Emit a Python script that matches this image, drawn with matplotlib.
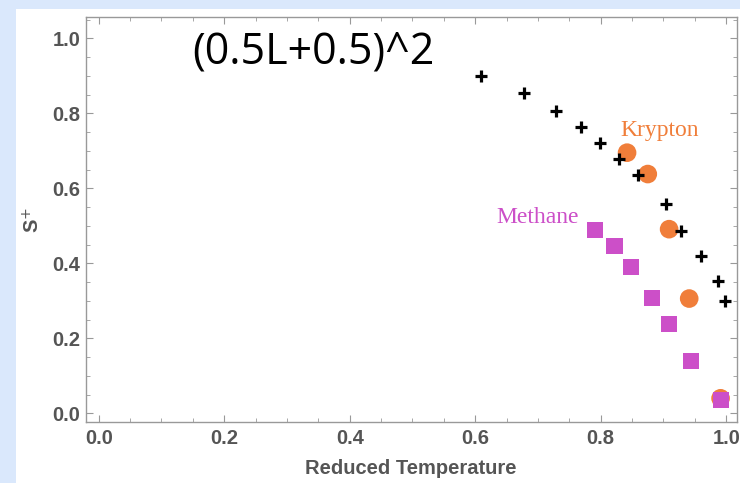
import matplotlib
matplotlib.use("Agg")
import matplotlib.pyplot as plt
from matplotlib.patches import Rectangle
from matplotlib.ticker import MultipleLocator

# Data
model_x = [0.610, 0.678, 0.729, 0.769, 0.799, 0.829, 0.859, 0.904, 0.928, 0.960, 0.987, 0.998]
model_y = [0.899, 0.854, 0.806, 0.763, 0.721, 0.678, 0.636, 0.558, 0.486, 0.419, 0.353, 0.300]
krypton_x = [0.842, 0.875, 0.909, 0.941, 0.991]
krypton_y = [0.695, 0.638, 0.491, 0.306, 0.040]
methane_x = [0.791, 0.822, 0.848, 0.882, 0.909, 0.944, 0.991]
methane_y = [0.489, 0.446, 0.390, 0.308, 0.238, 0.140, 0.035]
xticks = [0.0, 0.2, 0.4, 0.6, 0.8, 1.0]
yticks = [0.0, 0.2, 0.4, 0.6, 0.8, 1.0]

orange = "#f07e3a"
magenta = "#cc4fc8"
gray = "#555555"

fig = plt.figure(figsize=(7.4, 4.83), dpi=100, facecolor="#dae8fc")
fig.patches.append(Rectangle((16/740, 0), 1, 1 - 9/483, transform=fig.transFigure,
                             facecolor="white", edgecolor="none", zorder=-10))
ax = fig.add_axes([85.7/740, (483-422.3)/483, (736.7-85.7)/740, (422.3-17.3)/483])
ax.set_zorder(5)
ax.set_facecolor("white")

ax.scatter(krypton_x, krypton_y, s=180, marker="o", color=orange, edgecolors="none", zorder=2)
ax.scatter(methane_x, methane_y, s=135, marker="s", color=magenta, edgecolors="none", zorder=3)
ax.scatter(model_x, model_y, s=85, marker="+", color="black", linewidths=2.3, zorder=4)

ax.set_xlim(-0.0207, 1.0167)
ax.set_ylim(-0.024, 1.056)
ax.set_xticks(xticks)
ax.set_yticks(yticks)
ax.set_xticklabels([f"{v:.1f}" for v in xticks])
ax.set_yticklabels([f"{v:.1f}" for v in yticks])
ax.xaxis.set_minor_locator(MultipleLocator(0.05))
ax.yaxis.set_minor_locator(MultipleLocator(0.05))
ax.tick_params(which="both", direction="in", top=True, right=True, color="#999999")
ax.tick_params(which="major", length=5, width=0.8)
ax.tick_params(which="minor", length=3, width=0.6)
for sp in ax.spines.values():
    sp.set_color("#999999")
    sp.set_linewidth(1.0)

fam = ["Liberation Sans", "DejaVu Sans"]
for lbl in ax.get_xticklabels() + ax.get_yticklabels():
    lbl.set_fontfamily(fam)
    lbl.set_fontweight("bold")
    lbl.set_fontsize(14.5)
    lbl.set_color(gray)
ax.tick_params(axis="x", pad=5)
ax.tick_params(axis="y", pad=4)

ax.set_xlabel("Reduced Temperature", fontsize=14.5, fontweight="bold", color=gray,
              family=fam, labelpad=8)
ax.set_ylabel("S$^{+}$", fontsize=14.5, fontweight="bold", color=gray,
              family=fam, labelpad=6)

ax.text(0.1487, 0.962, "(0.5L+0.5)^2", fontsize=31, color="black",
        family=["Open Sans", "DejaVu Sans"], va="center", ha="left")
ax.text(0.832, 0.754, "Krypton", fontsize=17, color=orange,
        family=["Liberation Serif", "DejaVu Serif"], va="center", ha="left")
ax.text(0.633, 0.522, "Methane", fontsize=17, color=magenta,
        family=["Liberation Serif", "DejaVu Serif"], va="center", ha="left")

fig.savefig("out.png", dpi=100, facecolor=fig.get_facecolor())
